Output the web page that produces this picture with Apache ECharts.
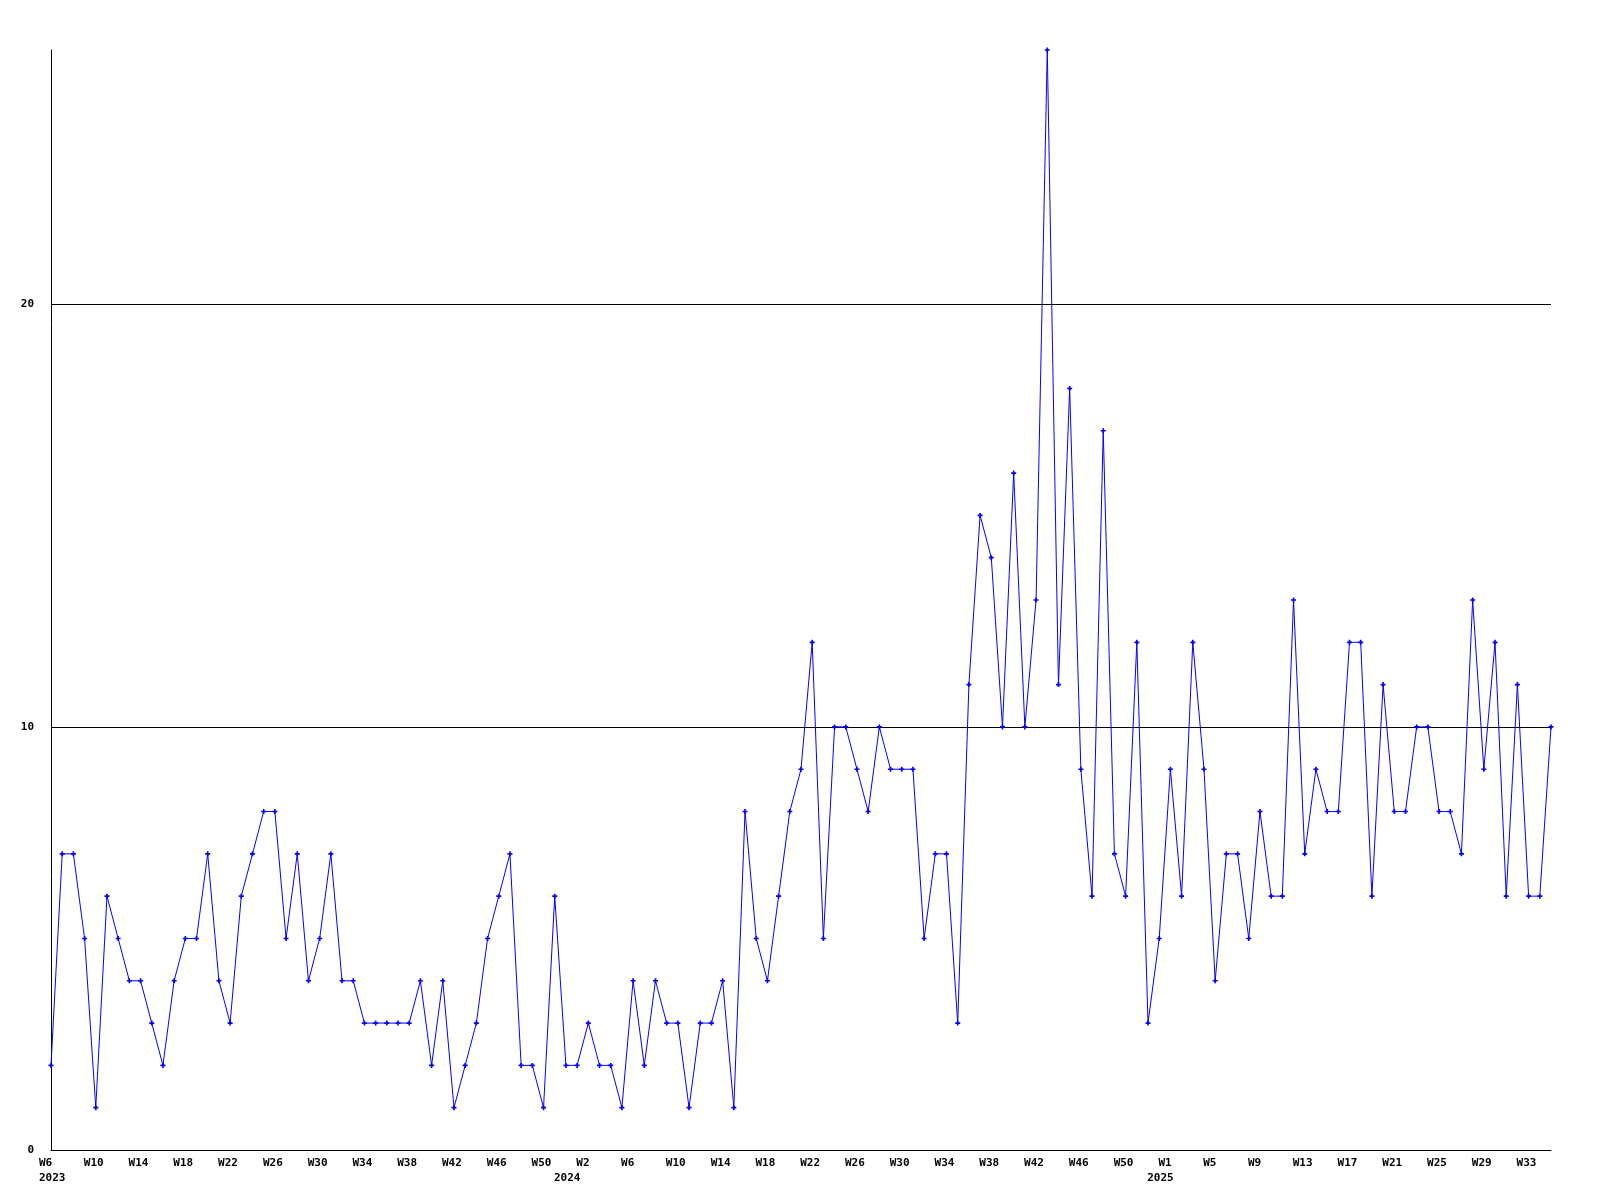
<!DOCTYPE html>
<html>
<head>
<meta charset="utf-8">
<script src="https://cdn.jsdelivr.net/npm/echarts@6/dist/echarts.min.js"></script>
<style>
html,body{margin:0;padding:0;background:#ffffff;}
#chart{width:1600px;height:1200px;}
</style>
</head>
<body>
<div id="chart"></div>
<script>
// ---- data ----
const firstWeek2023 = 6;
const values2023 = [2,7,7,5,1,6,5,4,4,3,2,4,5,5,7,4,3,6,7,8,8,5,7,4,5,7,4,4,3,3,3,3,3,4,2,4,1,2,3,5,6,7,2,2,1,6,2];
const firstWeek2024 = 1;
const values2024 = [2,3,2,2,1,4,2,4,3,3,1,3,3,4,1,8,5,4,6,8,9,12,5,10,10,9,8,10,9,9,9,5,7,7,3,11,15,14,10,16,10,13,26,11,18,9,6,17,7,6,12,3,5];
const firstWeek2025 = 1;
const values2025 = [9,6,12,9,4,7,7,5,8,6,6,13,7,9,8,8,12,12,6,11,8,8,10,10,8,8,7,13,9,12,6,11,6,6,10];

const yTicks = [0, 10, 20];
const yMax = 26;
const weekLabelEvery = 4;
const yearLabels = { '2023-W6': '2023', '2023-W52': '2024', '2024-W53': '2025' };

// ---- build categories ----
const categories = [];
const values = [];
function addYear(year, first, vals) {
  vals.forEach((v, i) => { categories.push(year + '-W' + (first + i)); values.push(v); });
}
addYear(2023, firstWeek2023, values2023);
addYear(2024, firstWeek2024, values2024);
addYear(2025, firstWeek2025, values2025);

const FONT = 'DejaVu Sans Mono';
const labelRich = { a: { width: 24, align: 'left', fontFamily: FONT, fontSize: 11, fontWeight: 'bold', color: '#000', lineHeight: 12 } };

const chart = echarts.init(document.getElementById('chart'), null, { renderer: 'canvas' });
chart.setOption({
  animation: false,
  backgroundColor: '#ffffff',
  grid: { left: 51, right: 49, top: 50, bottom: 50, containLabel: false },
  xAxis: [
    {
      type: 'category', data: categories, boundaryGap: false, position: 'bottom',
      axisLine: { show: true, lineStyle: { color: '#000', width: 1 } },
      axisTick: { show: false },
      splitLine: { show: false },
      axisLabel: {
        interval: weekLabelEvery - 1, margin: 7, align: 'center',
        formatter: v => '{a|' + v.split('-')[1] + '}',
        rich: labelRich
      }
    },
    {
      type: 'category', data: categories, boundaryGap: false, position: 'bottom', offset: 0,
      axisLine: { show: false }, axisTick: { show: false }, splitLine: { show: false },
      axisLabel: {
        interval: (i, v) => yearLabels[v] !== undefined, margin: 22, align: 'center',
        formatter: v => '{a|' + (yearLabels[v] || '') + '}',
        rich: labelRich
      }
    }
  ],
  yAxis: {
    type: 'value', min: yTicks[0], max: yMax, interval: yTicks[1] - yTicks[0],
    axisLine: { show: true, lineStyle: { color: '#000', width: 1 } },
    axisTick: { show: false },
    axisLabel: { margin: 17, showMaxLabel: false, fontFamily: FONT, fontSize: 11, fontWeight: 'bold', color: '#000' },
    splitLine: { show: true, showMaxLine: false, lineStyle: { color: '#000', width: 1 } }
  },
  series: [{
    type: 'line', xAxisIndex: 0, data: values,
    symbol: 'path://M1,0H2V1H3V2H2V3H1V2H0V1H1Z', symbolSize: 5, showAllSymbol: true,
    lineStyle: { color: '#0000ff', width: 1 },
    itemStyle: { color: '#0000ff' }
  }]
});
</script>
</body>
</html>
